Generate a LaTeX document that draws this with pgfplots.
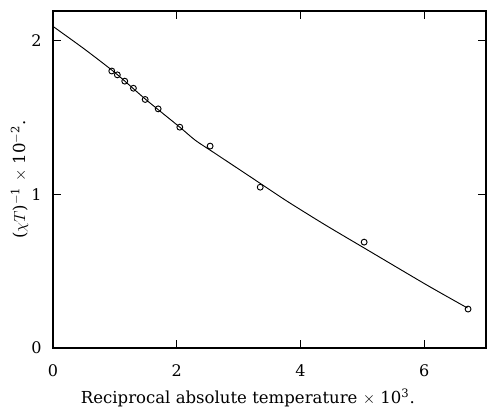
\documentclass[border=0pt]{standalone}
\usepackage{fontspec}
\setmainfont{DejaVu Serif}
\usepackage{pgfplots}
\pgfplotsset{compat=1.18}
\usetikzlibrary{calc}
\begin{document}
\begin{tikzpicture}
\begin{axis}[
    scale only axis,
    width=324.75pt, height=252.75pt,
    xmin=0, xmax=7,
    ymin=0, ymax=2.19,
    xtick={0,2,4,6},
    ytick={0,1,2},
    tick align=inside,
    major tick length=6pt,
    axis line style={line width=0.8pt},
    tick style={line width=0.6pt, black},
    /pgf/number format/assume math mode=true,
    tick label style={font=\fontsize{12}{14}\selectfont},
    label style={font=\fontsize{12.4}{15}\selectfont},
    xlabel={Reciprocal absolute temperature $\times$ 10\textsuperscript{3}.},
    ylabel={($\chi T$)\textsuperscript{$-$1} $\times$ 10\textsuperscript{$-$2}.},
    xlabel style={at={(axis description cs:0.45,0)}, anchor=north, yshift=-27pt},
    ylabel style={at={(axis description cs:0,0.5)}, anchor=south, yshift=15pt},
    xticklabel style={yshift=-9pt},
    yticklabel style={xshift=-5pt},
]
\addplot[black, line width=0.7pt, smooth, tension=0.4] coordinates {
    (0,2.09) (0.5,1.945) (1,1.79) (1.5,1.615) (2.05,1.435) (2.3,1.35)
    (2.6,1.27) (3.2,1.11) (3.78,0.955) (4.4,0.80) (5.03,0.65)
    (6.04,0.41) (6.7,0.26)
};
\addplot[only marks, mark=o, mark size=2.2pt, black, mark options={line width=0.7pt}] coordinates {
    (0.95,1.80) (1.04,1.775) (1.16,1.734) (1.30,1.688) (1.49,1.615)
    (1.70,1.554) (2.05,1.435) (2.54,1.312) (3.35,1.045) (5.03,0.688)
    (6.71,0.253)
};
\end{axis}
\path ($(current axis.south west)+(-39.75pt,-46.5pt)$) rectangle ($(current axis.north east)+(2.25pt,8.25pt)$);
\end{tikzpicture}
\end{document}
